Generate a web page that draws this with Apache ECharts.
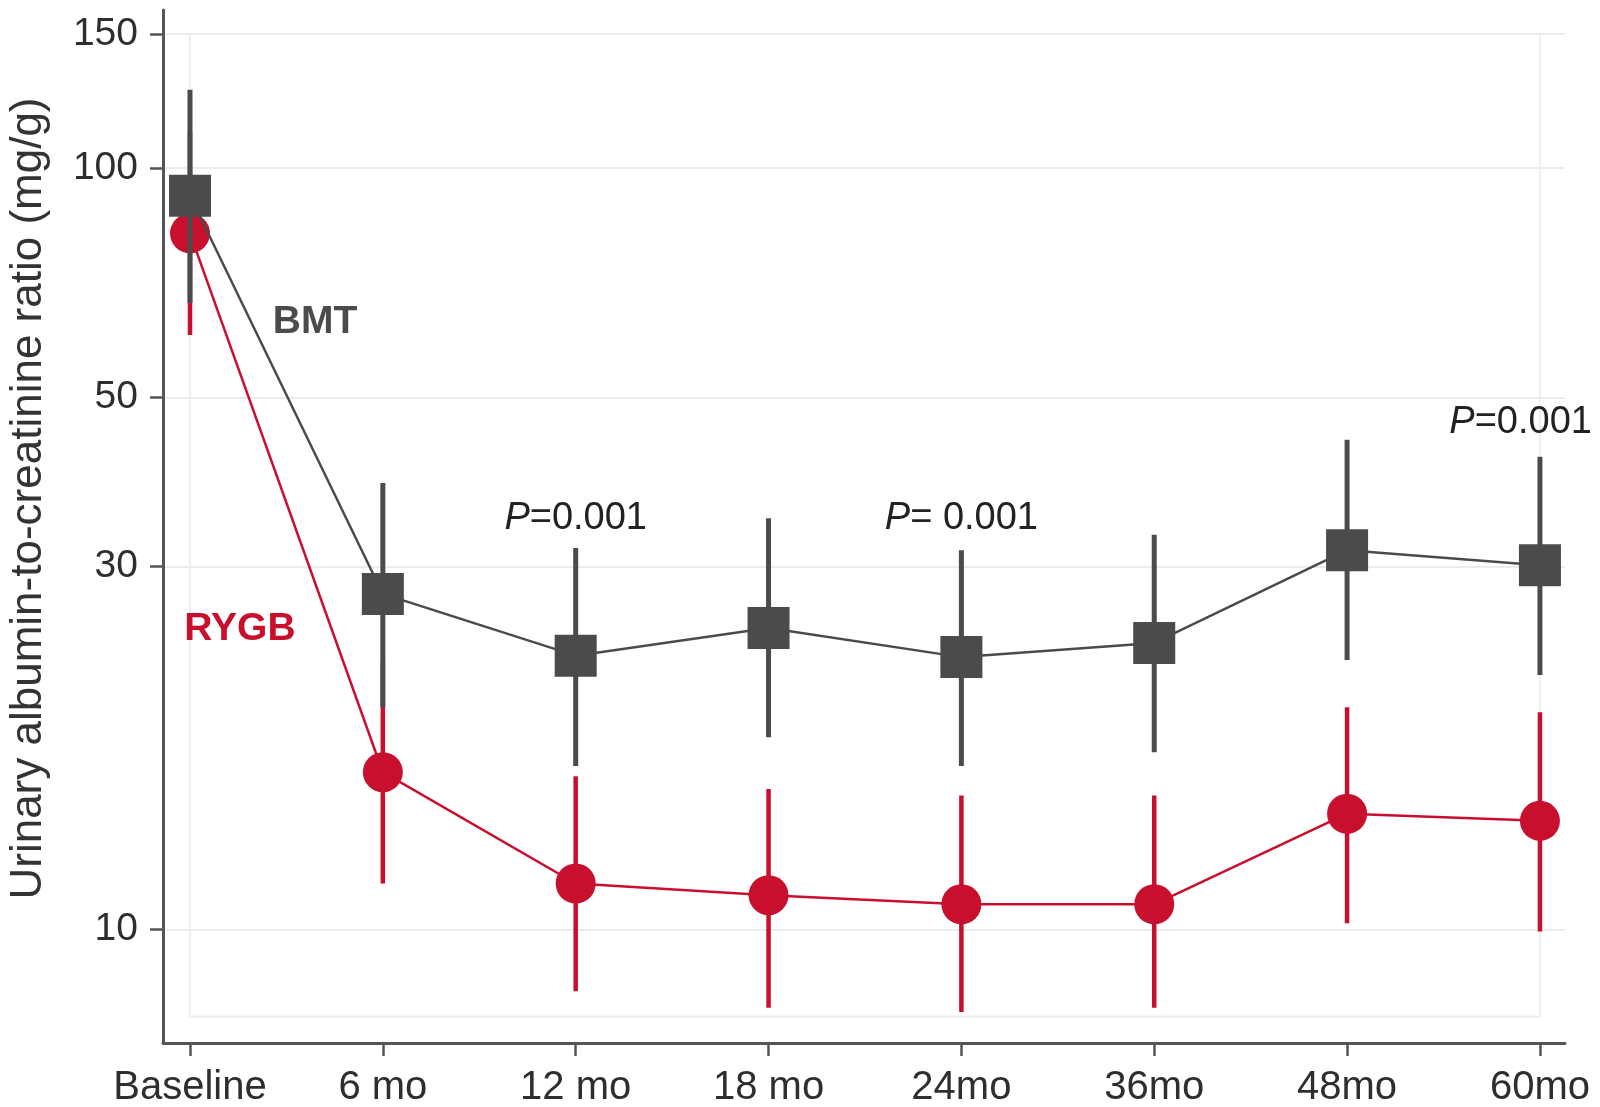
<!DOCTYPE html>
<html>
<head>
<meta charset="utf-8">
<script src="https://cdn.jsdelivr.net/npm/echarts@6/dist/echarts.min.js"></script>
<style>
  html, body { margin: 0; padding: 0; background: #fff; }
  #chart { width: 1600px; height: 1107px; }
</style>
</head>
<body>
<div id="chart"></div>
<script>
const categories = ['Baseline', '6 mo', '12 mo', '18 mo', '24mo', '36mo', '48mo', '60mo']

// BMT (squares) – mean and 95% CI, mg/g
const bmtMean = [92.0, 27.6, 22.9, 24.9, 22.8, 23.8, 31.5, 30.1]
const bmtLow = [66.5, 19.6, 16.4, 17.9, 16.4, 17.1, 22.6, 21.6]
const bmtHigh = [126.7, 38.6, 31.7, 34.7, 31.5, 33.0, 44.0, 41.8]

// RYGB (circles)
const rygbMean = [82.1, 16.1, 11.5, 11.1, 10.8, 10.8, 14.2, 13.9]
const rygbLow = [60.4, 11.5, 8.3, 7.9, 7.8, 7.9, 10.2, 9.95]
const rygbHigh = [112, 22.5, 15.9, 15.3, 15.0, 15.0, 19.6, 19.3]

const yTicks = [10, 30, 50, 100, 150]

// text annotations (x = category index, y = mg/g)
const annoText = ['BMT', 'RYGB', '{i|P}=0.001', '{i|P}= 0.001', '{i|P}=0.001']
const annoX = [0.648, 0.259, 2, 4, 6.9]
const annoY = [62.8, 24.8, 34.7, 34.7, 46.3]

const GRAY = '#4b4b4b'
const RED = '#c8102e'
const FONT = 'Liberation Sans'

const lg = v => Math.log10(v)

const errorBars = (name, low, high, color, width, z) => ({
  name,
  type: 'custom',
  z,
  silent: true,
  renderItem: (params, api) => {
    const x = api.value(0)
    const p1 = api.coord([x, api.value(1)])
    const p2 = api.coord([x, api.value(2)])
    return {
      type: 'line',
      shape: { x1: p1[0], y1: p1[1], x2: p2[0], y2: p2[1] },
      style: { stroke: color, lineWidth: width }
    }
  },
  data: low.map((v, i) => [i, lg(v), lg(high[i])])
})

const chart = echarts.init(document.getElementById('chart'))

const option = {
  backgroundColor: '#fff',
  animation: false,
  grid: {
    left: 163,
    right: 35,
    top: 10,
    bottom: 64,
    outerBoundsMode: 'none'
  },
  xAxis: {
    type: 'value',
    min: -0.14,
    max: 7.13,
    axisLine: { onZero: false, lineStyle: { color: '#555', width: 3 } },
    axisTick: {
      customValues: categories.map((c, i) => i),
      length: 13,
      lineStyle: { color: '#555', width: 2.5 }
    },
    axisLabel: {
      customValues: categories.map((c, i) => i),
      formatter: v => categories[Math.round(v)],
      fontFamily: FONT,
      fontSize: 40,
      color: '#2e2e2e',
      margin: 25
    },
    splitLine: { show: false }
  },
  yAxis: {
    type: 'value',
    min: lg(7.1),
    max: lg(161.3),
    name: 'Urinary albumin-to-creatinine ratio (mg/g)',
    nameLocation: 'middle',
    nameGap: 112,
    nameTextStyle: {
      fontFamily: FONT,
      fontSize: 44,
      color: '#333',
      padding: [0, 0, 0, 56]
    },
    axisLine: { show: true, onZero: false, lineStyle: { color: '#555', width: 3 } },
    axisTick: {
      show: true,
      customValues: yTicks.map(lg),
      length: 13,
      lineStyle: { color: '#555', width: 2.5 }
    },
    axisLabel: {
      customValues: yTicks.map(lg),
      formatter: v => String(Math.round(Math.pow(10, v))),
      fontFamily: FONT,
      fontSize: 39,
      color: '#2e2e2e',
      margin: 25
    },
    splitLine: {
      show: true,
      lineStyle: { color: '#e8eeec', width: 2 }
    }
  },
  series: [
    errorBars('RYGB CI', rygbLow, rygbHigh, RED, 4.5, 2),
    {
      name: 'RYGB',
      type: 'line',
      z: 3,
      data: rygbMean.map((v, i) => [i, lg(v)]),
      symbol: 'circle',
      symbolSize: 40,
      lineStyle: { color: RED, width: 2.5 },
      itemStyle: { color: RED },
      markArea: {
        silent: true,
        itemStyle: { color: 'rgba(0,0,0,0)', borderColor: '#eceff0', borderWidth: 2 },
        data: [[{ xAxis: 0, yAxis: lg(7.69) }, { xAxis: 7, yAxis: lg(150) }]]
      }
    },
    errorBars('BMT CI', bmtLow, bmtHigh, GRAY, 5, 4),
    {
      name: 'BMT',
      type: 'line',
      z: 5,
      data: bmtMean.map((v, i) => [i, lg(v)]),
      symbol: 'rect',
      symbolSize: 42,
      lineStyle: { color: GRAY, width: 2.5 },
      itemStyle: { color: GRAY }
    },
    {
      name: 'annotations',
      type: 'scatter',
      z: 6,
      silent: true,
      symbolSize: 1,
      itemStyle: { color: 'rgba(0,0,0,0)' },
      data: annoText.map((t, i) => ({
        value: [annoX[i], lg(annoY[i])],
        label: {
          show: true,
          position: 'inside',
          formatter: t,
          fontFamily: FONT,
          fontSize: i < 2 ? 39 : 38,
          fontWeight: i < 2 ? 'bold' : 'normal',
          color: i === 0 ? GRAY : i === 1 ? RED : '#222',
          textBorderWidth: 0,
          opacity: 1,
          rich: {
            i: { fontFamily: FONT, fontSize: 38, fontStyle: 'italic', color: '#222', textBorderWidth: 0 }
          }
        }
      }))
    }
  ]
}

chart.setOption(option)
</script>
</body>
</html>
